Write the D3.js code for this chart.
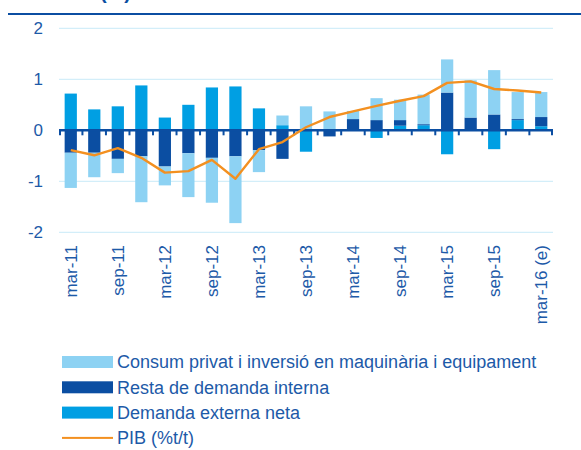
<!DOCTYPE html>
<html>
<head>
<meta charset="utf-8">
<script src="https://cdn.jsdelivr.net/npm/d3@7"></script>
<style>
  body { margin: 0; background: #fff; }
  text { font-family: "Liberation Sans", Arial, sans-serif; }
</style>
</head>
<body>
<div id="chart"></div>
<script>
// quarters, one bar each
var quarters = ["mar-11", "jun-11", "sep-11", "dec-11", "mar-12", "jun-12", "sep-12", "dec-12",
    "mar-13", "jun-13", "sep-13", "dec-13", "mar-14", "jun-14", "sep-14", "dec-14",
    "mar-15", "jun-15", "sep-15", "dec-15", "mar-16 (e)"];

// tick labels shown under the axis (every second quarter)
var tickLabels = ["mar-11", "sep-11", "mar-12", "sep-12", "mar-13", "sep-13",
    "mar-14", "sep-14", "mar-15", "sep-15", "mar-16 (e)"];

var consum = [-0.69, -0.48, -0.28, -0.90, -0.37, -0.86, -0.88, -1.31, -0.43, 0.19, 0.47,
    0.37, 0.16, 0.43, 0.40, 0.58, 0.65, 0.73, 0.87, 0.53, 0.49];
var resta = [-0.44, -0.44, -0.56, -0.51, -0.71, -0.45, -0.54, -0.51, -0.39, -0.56, 0.00,
    -0.12, 0.22, 0.20, 0.11, 0.02, 0.74, 0.25, 0.31, 0.02, 0.18];
var externa = [0.72, 0.41, 0.47, 0.88, 0.25, 0.50, 0.84, 0.86, 0.43, 0.10, -0.42,
    0.00, 0.00, -0.15, 0.09, 0.10, -0.47, 0.00, -0.37, 0.20, 0.08];
var pib = [-0.39, -0.49, -0.35, -0.54, -0.83, -0.80, -0.58, -0.95, -0.37, -0.23, 0.06,
    0.26, 0.37, 0.48, 0.58, 0.67, 0.93, 0.96, 0.81, 0.78, 0.74];

var yTicks = [-2, -1, 0, 1, 2];

var series = [
    {key: "externa", name: "Demanda externa neta", color: "#009fe3"},
    {key: "resta", name: "Resta de demanda interna", color: "#0b4ea2"},
    {key: "consum", name: "Consum privat i inversió en maquinària i equipament", color: "#8dd2f3"}
];
var textColor = "#1d5aa8";
var lineColor = "#f39020";

var width = 581, height = 450;
var margin = {left: 59, right: 28, top: 28, bottom: 218};

var svg = d3.select("#chart")
    .append("svg")
    .attr("width", width)
    .attr("height", height);

// table for the stack
var rows = quarters.map(function(q, i) {
    return {q: q, consum: consum[i], resta: resta[i], externa: externa[i]};
});

var stack = d3.stack()
    .keys(series.map(d => d.key))
    .offset(d3.stackOffsetDiverging);
var stacked = stack(rows);

var x = d3.scaleBand()
    .domain(quarters)
    .range([margin.left, width - margin.right])
    .paddingInner(0.48)
    .paddingOuter(0.24);

var y = d3.scaleLinear()
    .domain([-2, 2])
    .range([height - margin.bottom + 0.3, margin.top + 0.3]);

// title, mostly cut off at the top
svg.append("text")
    .attr("x", 131)
    .attr("y", -1)
    .attr("text-anchor", "end")
    .style("font-size", "20px")
    .style("font-weight", "bold")
    .attr("fill", "#0b4ea2")
    .text("PIB (%)");

svg.append("line")
    .attr("x1", 8).attr("x2", width)
    .attr("y1", 14).attr("y2", 14)
    .attr("stroke", "#0b4ea2")
    .attr("stroke-width", 2.2);

// gridlines
svg.append("g")
    .selectAll("line")
    .data(yTicks.filter(d => d !== 0))
    .enter()
    .append("line")
    .attr("x1", margin.left)
    .attr("x2", width - margin.right)
    .attr("y1", d => y(d))
    .attr("y2", d => y(d))
    .attr("stroke", "#c8eaf8")
    .attr("stroke-width", 1);

// y labels
svg.append("g")
    .selectAll("text")
    .data(yTicks)
    .enter()
    .append("text")
    .attr("x", 43)
    .attr("y", d => y(d))
    .attr("dy", "0.36em")
    .attr("text-anchor", "end")
    .style("font-size", "17px")
    .attr("fill", textColor)
    .text(d => d);

// bars
svg.append("g")
    .selectAll("g")
    .data(stacked)
    .enter()
    .append("g")
    .attr("fill", (d, i) => series[i].color)
    .selectAll("rect")
    .data(d => d)
    .enter()
    .append("rect")
    .attr("x", d => x(d.data.q))
    .attr("width", x.bandwidth())
    .attr("y", d => y(Math.max(d[0], d[1])))
    .attr("height", d => Math.abs(y(d[0]) - y(d[1])));

// zero axis with ticks at category boundaries
var axis = svg.append("g");
axis.append("line")
    .attr("x1", margin.left)
    .attr("x2", width - margin.right)
    .attr("y1", y(0))
    .attr("y2", y(0))
    .attr("stroke", "#0b4ea2")
    .attr("stroke-width", 2.6);
var bounds = quarters.map(q => x(q) - x.step() * x.paddingInner() / 2 - 0.1);
bounds.push(width - margin.right - 1);
bounds[0] = margin.left + 1;
axis.selectAll("line.tick")
    .data(bounds)
    .enter()
    .append("line")
    .attr("class", "tick")
    .attr("x1", d => d)
    .attr("x2", d => d)
    .attr("y1", y(0))
    .attr("y2", y(0) + 5)
    .attr("stroke", "#0b4ea2")
    .attr("stroke-width", 2);

// PIB line
var line = d3.line()
    .x((d, i) => x(quarters[i]) + x.bandwidth() / 2)
    .y(d => y(d));
svg.append("path")
    .datum(pib)
    .attr("d", line)
    .attr("fill", "none")
    .attr("stroke", lineColor)
    .attr("stroke-width", 2.4)
    .attr("stroke-linejoin", "round");

// x labels, centred on their bars
svg.append("g")
    .selectAll("text")
    .data(tickLabels)
    .enter()
    .append("text")
    .attr("transform", d => `translate(${x(d) + x.bandwidth() / 2}, 245) rotate(-90)`)
    .attr("dy", "0.35em")
    .attr("text-anchor", "end")
    .style("font-size", "17px")
    .attr("fill", textColor)
    .text(d => d);

// legend
var legendItems = [series[2], series[1], series[0], {name: "PIB (%t/t)", color: lineColor, line: true}];
var legend = svg.append("g")
    .selectAll("g")
    .data(legendItems)
    .enter()
    .append("g")
    .attr("transform", (d, i) => `translate(62, ${362 + i * 25.3})`);
legend.append("rect")
    .attr("x", 0)
    .attr("y", d => d.line ? -1 : -6)
    .attr("width", 51)
    .attr("height", d => d.line ? 2 : 12)
    .attr("fill", d => d.color);
legend.append("text")
    .attr("x", 55)
    .attr("y", 0)
    .attr("dy", "0.36em")
    .style("font-size", "18px")
    .attr("fill", textColor)
    .text(d => d.name);
</script>
</body>
</html>
